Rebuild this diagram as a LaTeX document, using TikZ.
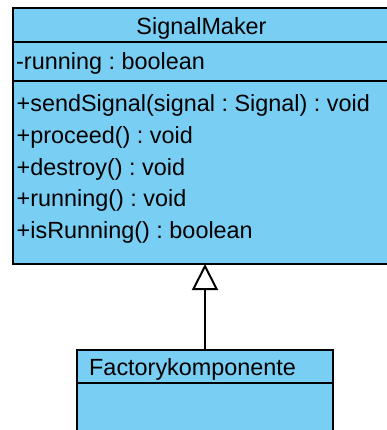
\documentclass[tikz,border=0pt]{standalone}
\usepackage{fontspec}
\setmainfont{Liberation Sans}
\frenchspacing
\usetikzlibrary{arrows.meta,positioning}
\definecolor{umlfill}{HTML}{79CEF4}
\tikzset{
  cls/.style ={draw, fill=umlfill, line width=2pt, rectangle, inner sep=0pt,
               outer sep=0pt, anchor=north west},
  lbl/.style ={inner sep=0pt, font=\fontsize{23.4}{28}\selectfont},
  gen/.style ={-{Triangle[open, length=26pt, width=26pt]}, line width=2pt},
}

\begin{document}
\begin{tikzpicture}[x=1pt,y=-1pt]
\useasboundingbox (0,0) rectangle (387,430);
\fill[white] (0,0) rectangle (387,430);
\clip (0,0) rectangle (387,430);
% SignalMaker
\node[cls, minimum width=377pt, minimum height=34pt] (smhead) at (13,8) {};
\node[cls, minimum width=377pt, minimum height=39pt] (smattr) at (smhead.south west) {};
\node[cls, minimum width=377pt, minimum height=183pt] (smops) at (smattr.south west) {};
\node[lbl, anchor=base] (smname) at (201.5,35) {SignalMaker};
\node[lbl, anchor=base west] (smrun) at (16,70) {-running : boolean};
\foreach \op [count=\i] in {{+sendSignal(signal : Signal) : void},
    {+proceed() : void},{+destroy() : void},{+running() : void},
    {+isRunning() : boolean}}
  \node[lbl, anchor=base west] (op\i) at (16.5,{112+31.6*(\i-1)}) {\op};
% Factorykomponente
\node[cls, minimum width=256pt, minimum height=33pt] (fkhead) at (77,350) {};
\node[cls, minimum width=256pt, minimum height=80pt] (fkbody) at (fkhead.south west) {};
\node[lbl, anchor=base west] (fkname) at (89,375.7) {Factorykomponente};
\draw[gen] (fkhead.north) -- (fkhead.north |- smops.south);
\end{tikzpicture}
\end{document}
